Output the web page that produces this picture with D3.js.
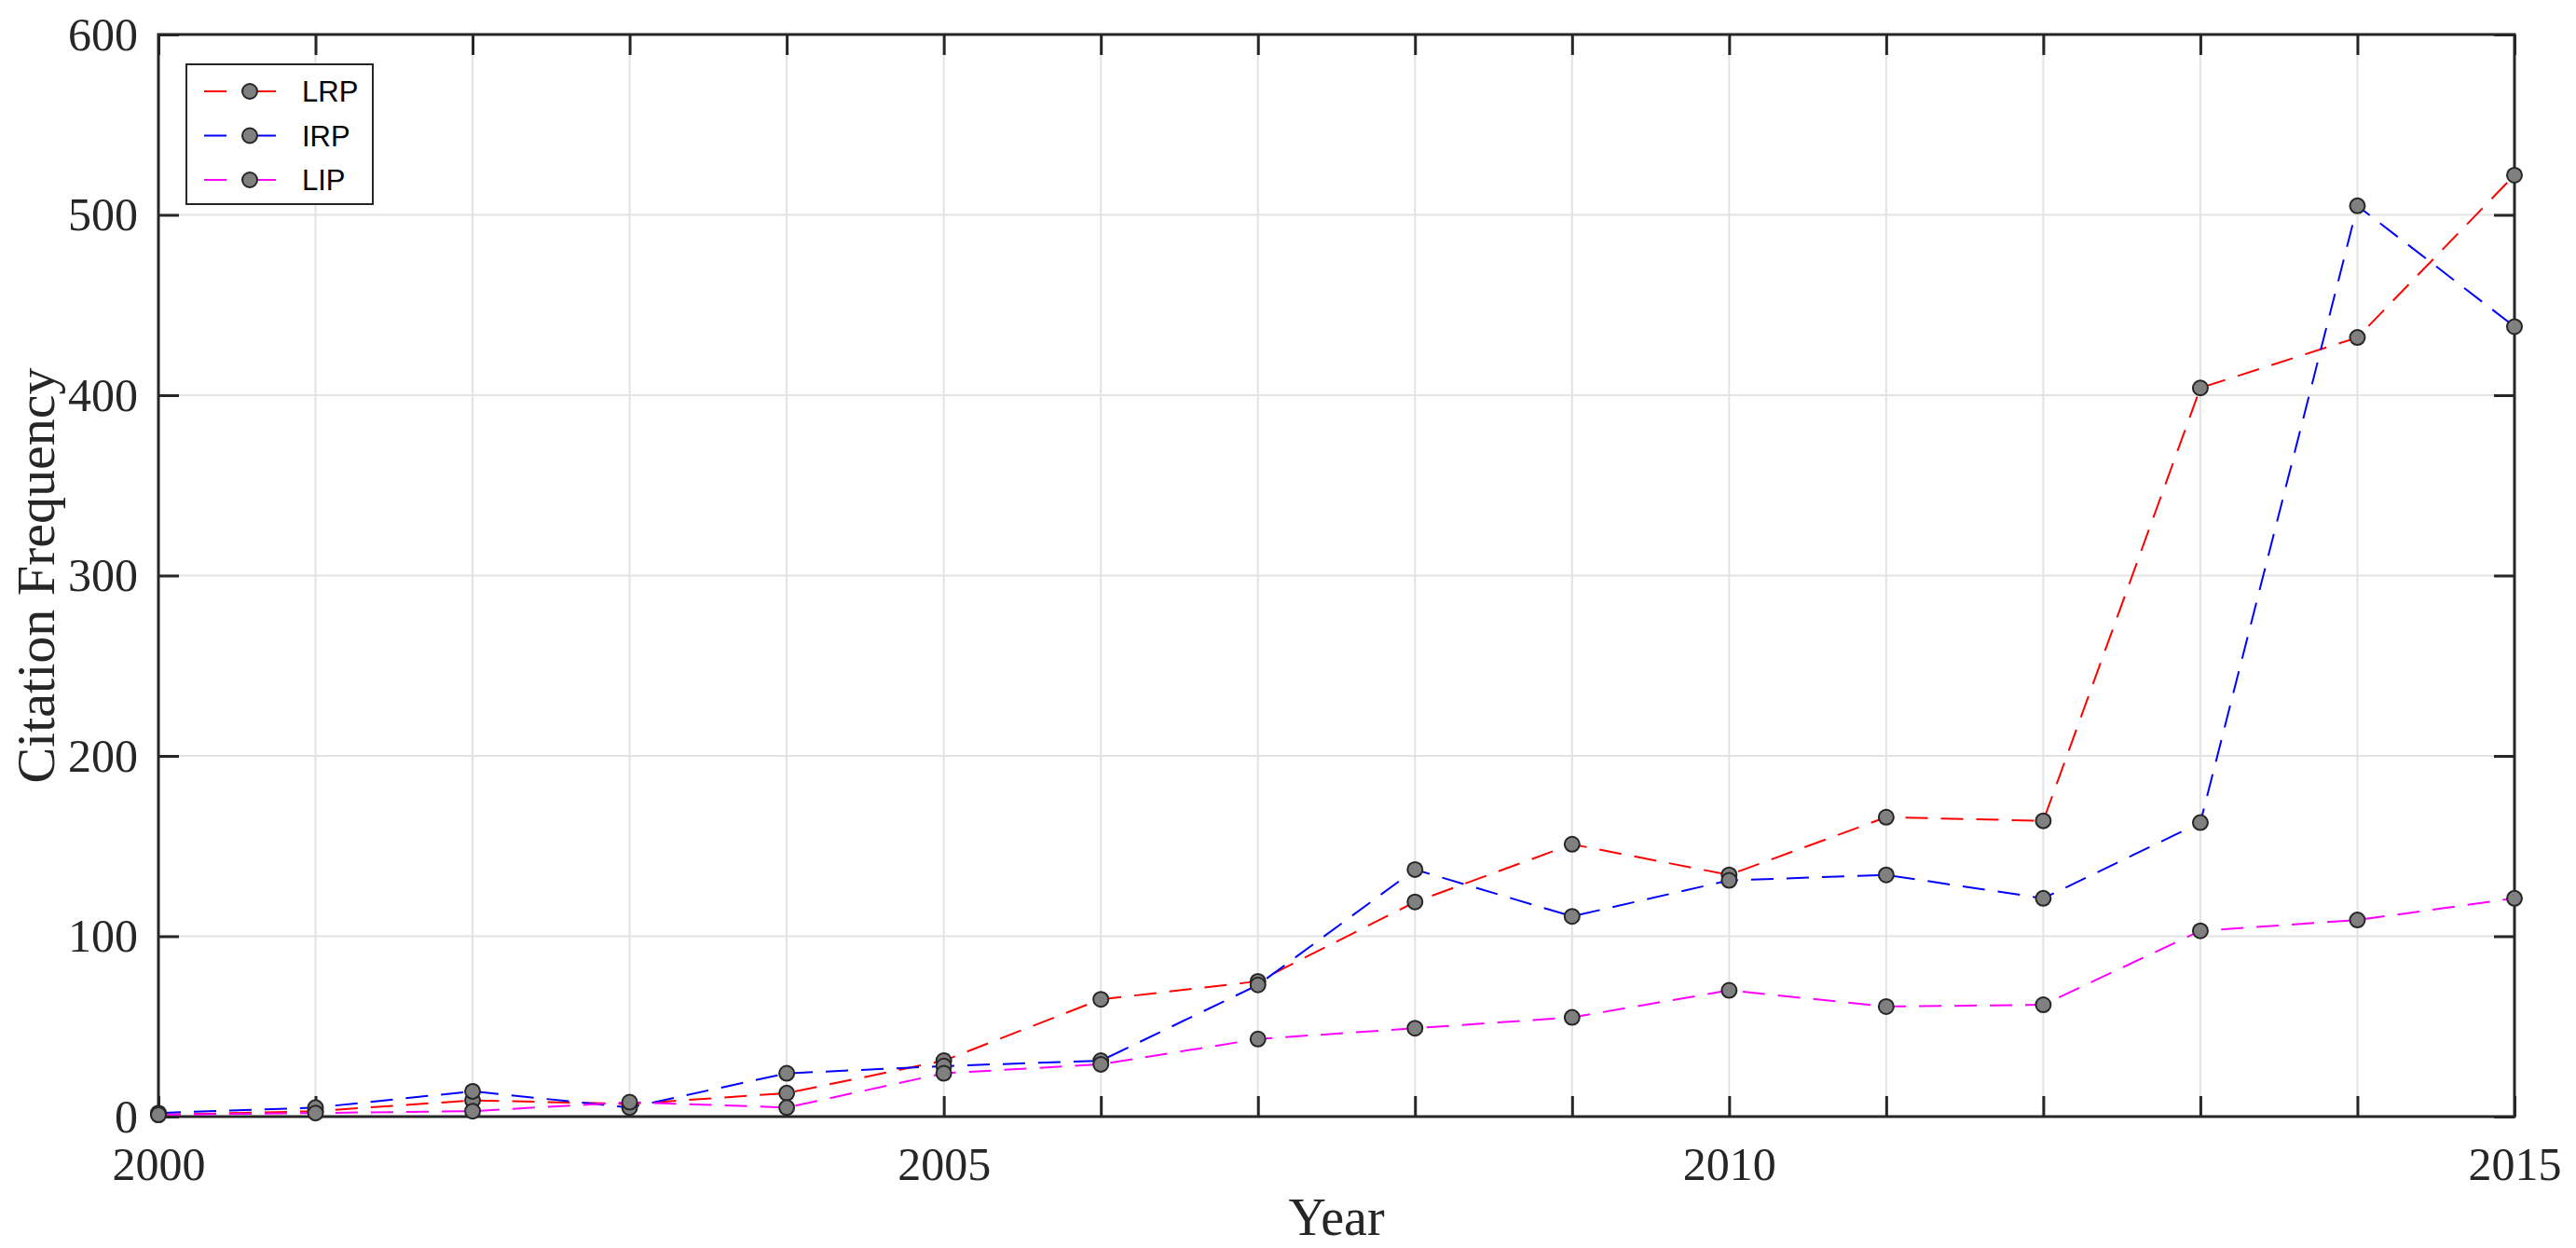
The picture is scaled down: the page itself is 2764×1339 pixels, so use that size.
<!DOCTYPE html>
<html lang="en">
<head>
<meta charset="UTF-8">
<title>Citation Frequency</title>
<style>
  body { margin: 0; background: #fff; }
  .tick text { font-family: "Liberation Serif", serif; font-size: 50px; fill: #262626; }
</style>
</head>
<body>
<script src="https://cdn.jsdelivr.net/npm/d3@7"></script>
<script>
const years = d3.range(2000, 2016);
const lrp = [1, 3, 9, 7, 13, 31, 65, 75, 119, 151, 134, 166, 164, 404, 432, 522];
const irp = [2, 5, 14, 5, 24, 28, 31, 73, 137, 111, 131, 134, 121, 163, 505, 438];
const lip = [1, 2, 3, 8, 5, 24, 29, 43, 49, 55, 70, 61, 62, 103, 109, 121];
const seriesNames = ["LRP", "IRP", "LIP"];
const seriesColors = ["#ff0000", "#0000ff", "#ff00ff"];
const xTicks = [2000, 2005, 2010, 2015];
const yTicks = [0, 100, 200, 300, 400, 500, 600];

const width = 2764, height = 1339;
const margin = {top: 37, right: 66, bottom: 141, left: 170};
const w = width - margin.left - margin.right, h = height - margin.top - margin.bottom;

const svg = d3.select("body").append("svg")
    .attr("width", width).attr("height", height);
const g = svg.append("g").attr("transform", `translate(${margin.left},${margin.top})`);

const x = d3.scaleLinear().domain([2000, 2015]).range([0, w]);
const y = d3.scaleLinear().domain([0, 600]).range([h, 0]);

// grid
g.append("g").selectAll("line").data(years).join("line")
    .attr("x1", d => x(d)).attr("x2", d => x(d)).attr("y1", 0).attr("y2", h)
    .attr("stroke", "#e3e3e3").attr("stroke-width", 2);
g.append("g").selectAll("line").data(yTicks).join("line")
    .attr("y1", d => y(d)).attr("y2", d => y(d)).attr("x1", 0).attr("x2", w)
    .attr("stroke", "#e3e3e3").attr("stroke-width", 2);

// axes (ticks inward, box)
const tk = 22;
g.append("g").attr("transform", `translate(0,${h})`)
    .call(d3.axisBottom(x).tickValues(years).tickFormat(d => xTicks.includes(d) ? d : "")
      .tickSizeInner(-tk).tickSizeOuter(0).tickPadding(32));
g.append("g")
    .call(d3.axisLeft(y).tickValues(yTicks).tickSizeInner(-tk).tickSizeOuter(0).tickPadding(22));
g.append("g").call(d3.axisTop(x).tickValues(years).tickFormat("").tickSizeInner(-tk).tickSizeOuter(0));
g.append("g").attr("transform", `translate(${w},0)`)
    .call(d3.axisRight(y).tickValues(yTicks).tickFormat("").tickSizeInner(-tk).tickSizeOuter(0));
g.selectAll(".domain").remove();
g.selectAll(".tick line").attr("stroke", "#262626").attr("stroke-width", 3);
g.append("rect").attr("width", w).attr("height", h)
    .attr("fill", "none").attr("stroke", "#262626").attr("stroke-width", 3);

// lines and markers
const all = [lrp, irp, lip];
const line = d3.line().x((d, i) => x(years[i])).y(d => y(d));
all.forEach((s, k) => {
  g.append("path").datum(s).attr("d", line).attr("fill", "none")
    .attr("stroke", seriesColors[k]).attr("stroke-width", 2).attr("stroke-dasharray", "24,14");
});
all.forEach(s => {
  g.append("g").selectAll("circle").data(s).join("circle")
    .attr("cx", (d, i) => x(years[i])).attr("cy", d => y(d)).attr("r", 8)
    .attr("fill", "#808080").attr("stroke", "#262626").attr("stroke-width", 2);
});

// labels
svg.append("text").attr("x", margin.left + w / 2).attr("y", 1325)
    .attr("text-anchor", "middle").attr("font-family", "Liberation Serif, serif")
    .attr("font-size", 56).attr("fill", "#262626").text("Year");
svg.append("text").attr("transform", `translate(58,${margin.top + h / 2}) rotate(-90)`)
    .attr("text-anchor", "middle").attr("font-family", "Liberation Serif, serif")
    .attr("font-size", 58).attr("fill", "#262626").text("Citation Frequency");

// legend
const lg = svg.append("g").attr("transform", "translate(200,69)");
lg.append("rect").attr("width", 200).attr("height", 150)
    .attr("fill", "#fff").attr("stroke", "#262626").attr("stroke-width", 2);
seriesNames.forEach((n, k) => {
  const yy = 29 + k * 47.5;
  lg.append("line").attr("x1", 19).attr("x2", 115).attr("y1", yy).attr("y2", yy)
    .attr("stroke", seriesColors[k]).attr("stroke-width", 2).attr("stroke-dasharray", "24,29");
  lg.append("circle").attr("cx", 68).attr("cy", yy).attr("r", 8)
    .attr("fill", "#808080").attr("stroke", "#262626").attr("stroke-width", 2);
  lg.append("text").attr("x", 124).attr("y", yy + 11).attr("font-family", "Liberation Sans, Arial, sans-serif")
    .attr("font-size", 31).attr("fill", "#000").text(n);
});
</script>
</body>
</html>
